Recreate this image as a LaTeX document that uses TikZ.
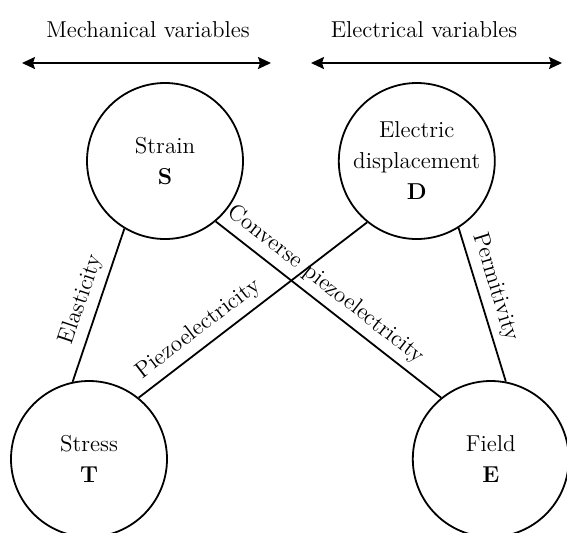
\documentclass[tikz,border=0pt]{standalone}
\usepackage{tikz}
\usetikzlibrary{positioning,arrows.meta}
\tikzset{var node/.style={circle,draw,line width=0.9pt,minimum size=78pt,inner sep=0pt,align=center},
         var link/.style={line width=0.9pt},
         side arrow/.style={line width=0.9pt,{Stealth[length=6.5pt,width=6pt,inset=1pt]}-{Stealth[length=6.5pt,width=6pt,inset=1pt]}},}

\begin{document}
\begin{tikzpicture}[x=0.5pt,y=-0.5pt,font=\fontsize{11.5pt}{15.5pt}\selectfont]
    \useasboundingbox (0,0) rectangle (567,532);
    \clip (0,0) rectangle (567,532);

    % headings
    \node (mech) at (148,30) {Mechanical variables};
    \node (elec) at (424,30) {Electrical variables};
    \coordinate (m1) at (22,63);
    \coordinate (m2) at (271,63);
    \coordinate (e1) at (311,63);
    \coordinate (e2) at (562,63);
    \draw[side arrow] (m1) -- (m2);
    \draw[side arrow] (e1) -- (e2);

    % variables
    \node[var node] (S) at (165,161) {Strain\\\textbf{S}};
    \node[var node] (D) [right = 47pt of S] {Electric\\displacement\\\textbf{D}};
    \node[var node] (T) at (89,459) {Stress\\\textbf{T}};
    \node[var node] (E) [right = 122pt of T] {Field\\\textbf{E}};

    \path[draw,var link]
    (T.102) edge node[midway,above,sloped] {Elasticity} (S.239)
    (D.302) edge node[pos=.42,above,sloped] {Permitivity} (E.79)
    (S.310) edge node[pos=.44,above,sloped] {Converse piezoelectricity} (E.129)
    (T.51) edge node[pos=.31,above,sloped] {Piezoelectricity} (D.231)
    ;
\end{tikzpicture}
\end{document}
